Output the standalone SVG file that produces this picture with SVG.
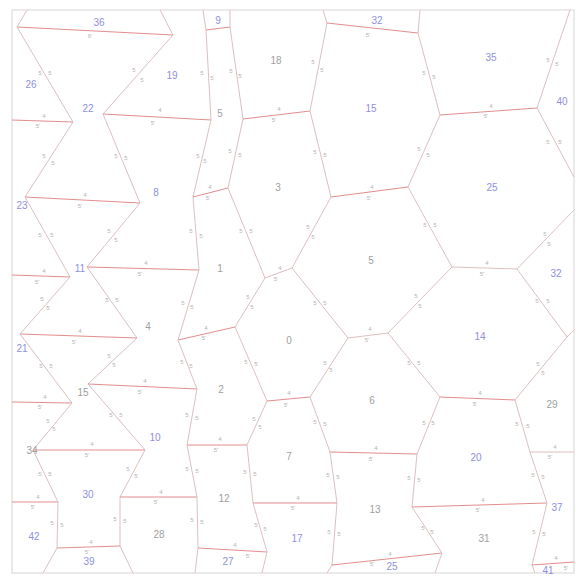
<svg xmlns="http://www.w3.org/2000/svg" width="576" height="581" viewBox="0 0 576 581">
<style>
.bg{fill:#ffffff}
.frame{fill:none;stroke:#dcdcdc;stroke-width:1.2}
.r{stroke:#e38d8d;stroke-width:1;fill:none}
.g{stroke:#dcc0c0;stroke-width:1;fill:none}
.nb{font-family:"Liberation Sans",Arial,sans-serif;font-size:10px;fill:#8f8fe0;text-anchor:middle}
.ng{font-family:"Liberation Sans",Arial,sans-serif;font-size:10px;fill:#a0a0a0;text-anchor:middle}
.el{font-family:"Liberation Sans",Arial,sans-serif;font-size:6px;fill:#b4b4b4;text-anchor:middle}
</style>
<rect class="bg" x="0" y="0" width="576" height="581"/>
<rect class="frame" x="12" y="10" width="562" height="563"/>
<g id="connectors">
<path class="r" d="M17,27 L173,35"/>
<path class="g" d="M17,27 L27,10"/>
<path class="g" d="M173,35 L160,10"/>
<path class="g" d="M17,27 L73,122"/>
<path class="g" d="M173,35 L103,114"/>
<path class="r" d="M12,120 L73,122"/>
<path class="r" d="M103,114 L211,120"/>
<path class="g" d="M203,10 L206,30 L211,120"/>
<path class="r" d="M206,30 L230,27"/>
<path class="g" d="M230,10 L230,27 L243,119"/>
<path class="r" d="M243,119 L310,111"/>
<path class="g" d="M310,111 L327,23 L323,10"/>
<path class="r" d="M327,23 L418,33"/>
<path class="g" d="M420,10 L418,33 L440,115"/>
<path class="r" d="M440,115 L537,108"/>
<path class="g" d="M537,108 L570,10"/>
<path class="g" d="M537,108 L574,177"/>
<path class="g" d="M440,115 L408,187"/>
<path class="g" d="M310,111 L331,197"/>
<path class="r" d="M331,197 L408,187"/>
<path class="g" d="M243,119 L228,188"/>
<path class="g" d="M211,120 L193,197"/>
<path class="r" d="M193,197 L228,188"/>
<path class="g" d="M73,122 L25,197"/>
<path class="g" d="M103,114 L140,203"/>
<path class="r" d="M25,197 L140,203"/>
<path class="g" d="M25,197 L70,277"/>
<path class="g" d="M140,203 L87,267"/>
<path class="r" d="M12,275 L70,277"/>
<path class="r" d="M87,267 L199,270"/>
<path class="g" d="M193,197 L199,270"/>
<path class="g" d="M228,188 L265,278"/>
<path class="g" d="M265,278 L292,268"/>
<path class="g" d="M292,268 L331,197"/>
<path class="g" d="M408,187 L452,267"/>
<path class="g" d="M452,267 L517,269"/>
<path class="g" d="M517,269 L574,210"/>
<path class="g" d="M517,269 L567,337 L574,330"/>
<path class="g" d="M567,337 L515,400"/>
<path class="g" d="M452,267 L388,333"/>
<path class="g" d="M388,333 L348,338"/>
<path class="g" d="M292,268 L348,338"/>
<path class="g" d="M388,333 L440,397"/>
<path class="g" d="M265,278 L235,327"/>
<path class="r" d="M235,327 L178,340"/>
<path class="g" d="M199,270 L178,340"/>
<path class="g" d="M70,277 L20,334"/>
<path class="g" d="M87,267 L137,338"/>
<path class="r" d="M20,334 L137,338"/>
<path class="g" d="M137,338 L88,384"/>
<path class="g" d="M20,334 L72,403"/>
<path class="r" d="M88,384 L197,389"/>
<path class="g" d="M178,340 L197,389"/>
<path class="g" d="M235,327 L267,401"/>
<path class="g" d="M348,338 L310,397"/>
<path class="r" d="M267,401 L310,397"/>
<path class="r" d="M440,397 L515,400"/>
<path class="g" d="M515,400 L530,452"/>
<path class="r" d="M72,403 L12,402"/>
<path class="g" d="M72,403 L33,450"/>
<path class="g" d="M88,384 L145,450"/>
<path class="r" d="M33,450 L145,450"/>
<path class="g" d="M197,389 L187,445"/>
<path class="r" d="M187,445 L247,445"/>
<path class="g" d="M267,401 L247,445"/>
<path class="g" d="M310,397 L330,452"/>
<path class="r" d="M330,452 L417,454"/>
<path class="g" d="M440,397 L417,454"/>
<path class="g" d="M530,452 L574,452"/>
<path class="g" d="M33,450 L58,502"/>
<path class="g" d="M145,450 L120,497"/>
<path class="r" d="M58,502 L12,502"/>
<path class="r" d="M120,497 L197,497"/>
<path class="g" d="M187,445 L197,497"/>
<path class="g" d="M247,445 L253,503"/>
<path class="r" d="M253,503 L337,503"/>
<path class="g" d="M330,452 L337,503"/>
<path class="g" d="M417,454 L412,507"/>
<path class="r" d="M412,507 L547,503"/>
<path class="g" d="M530,452 L547,503"/>
<path class="g" d="M58,502 L57,548"/>
<path class="g" d="M120,497 L120,546"/>
<path class="r" d="M57,548 L120,546"/>
<path class="g" d="M57,548 L43,573"/>
<path class="g" d="M120,546 L133,573"/>
<path class="g" d="M197,497 L198,548 L195,573"/>
<path class="r" d="M198,548 L267,552"/>
<path class="g" d="M253,503 L267,552 L262,573"/>
<path class="g" d="M337,503 L332,565 L327,573"/>
<path class="r" d="M332,565 L442,553"/>
<path class="g" d="M412,507 L442,553 L435,573"/>
<path class="g" d="M547,503 L532,565 L535,573"/>
<path class="r" d="M532,565 L574,562"/>
</g>
<g id="edge-labels">
<text class="el" x="90" y="38">6'</text>
<text class="el" x="40" y="75">5</text><text class="el" x="50" y="75">5</text>
<text class="el" x="134" y="72">5</text><text class="el" x="142" y="82">5</text>
<text class="el" x="44" y="118">4</text><text class="el" x="38" y="128">5'</text>
<text class="el" x="160" y="112">4</text><text class="el" x="153" y="125">5'</text>
<text class="el" x="202" y="75">5</text><text class="el" x="212" y="80">5</text>
<text class="el" x="231" y="73">5</text><text class="el" x="240" y="78">5</text>
<text class="el" x="279" y="111">4</text><text class="el" x="274" y="122">5'</text>
<text class="el" x="313" y="64">5</text><text class="el" x="322" y="72">5</text>
<text class="el" x="368" y="37">5'</text>
<text class="el" x="424" y="75">5</text><text class="el" x="434" y="79">5</text>
<text class="el" x="491" y="108">4</text><text class="el" x="486" y="118">5'</text>
<text class="el" x="548" y="62">5</text><text class="el" x="557" y="66">5</text>
<text class="el" x="548" y="144">5</text><text class="el" x="560" y="144">5</text>
<text class="el" x="419" y="151">5</text><text class="el" x="428" y="157">5</text>
<text class="el" x="315" y="154">5</text><text class="el" x="325" y="157">5</text>
<text class="el" x="372" y="189">4</text><text class="el" x="369" y="200">5'</text>
<text class="el" x="230" y="153">5</text><text class="el" x="240" y="157">5</text>
<text class="el" x="198" y="158">5</text><text class="el" x="205" y="163">5</text>
<text class="el" x="210" y="189">4</text><text class="el" x="208" y="200">5'</text>
<text class="el" x="44" y="158">5</text><text class="el" x="53" y="165">5</text>
<text class="el" x="116" y="158">5</text><text class="el" x="126" y="160">5</text>
<text class="el" x="85" y="197">4</text><text class="el" x="80" y="208">5'</text>
<text class="el" x="40" y="237">5</text><text class="el" x="52" y="237">5</text>
<text class="el" x="109" y="233">5</text><text class="el" x="116" y="242">5</text>
<text class="el" x="44" y="273">4</text><text class="el" x="37" y="284">5'</text>
<text class="el" x="146" y="265">4</text><text class="el" x="140" y="276">5'</text>
<text class="el" x="191" y="233">5</text><text class="el" x="201" y="238">5</text>
<text class="el" x="241" y="233">5</text><text class="el" x="251" y="233">5</text>
<text class="el" x="280" y="270">4</text><text class="el" x="276" y="281">5'</text>
<text class="el" x="308" y="229">5</text><text class="el" x="313" y="239">5</text>
<text class="el" x="425" y="227">5</text><text class="el" x="435" y="227">5</text>
<text class="el" x="487" y="265">4</text><text class="el" x="482" y="276">5'</text>
<text class="el" x="545" y="236">5</text><text class="el" x="549" y="246">5</text>
<text class="el" x="537" y="303">5</text><text class="el" x="548" y="303">5</text>
<text class="el" x="538" y="366">5</text><text class="el" x="543" y="375">5</text>
<text class="el" x="416" y="298">5</text><text class="el" x="420" y="308">5</text>
<text class="el" x="370" y="331">4</text><text class="el" x="367" y="342">5'</text>
<text class="el" x="315" y="305">5</text><text class="el" x="325" y="305">5</text>
<text class="el" x="409" y="365">5</text><text class="el" x="419" y="365">5</text>
<text class="el" x="248" y="299">5</text><text class="el" x="252" y="309">5</text>
<text class="el" x="206" y="330">4</text><text class="el" x="204" y="340">5'</text>
<text class="el" x="183" y="305">5</text><text class="el" x="192" y="309">5</text>
<text class="el" x="42" y="301">5</text><text class="el" x="48" y="310">5</text>
<text class="el" x="107" y="302">5</text><text class="el" x="117" y="302">5</text>
<text class="el" x="80" y="333">4</text><text class="el" x="74" y="344">5'</text>
<text class="el" x="109" y="358">5</text><text class="el" x="114" y="367">5</text>
<text class="el" x="41" y="368">5</text><text class="el" x="51" y="368">5</text>
<text class="el" x="145" y="383">4</text><text class="el" x="140" y="394">5'</text>
<text class="el" x="182" y="364">5</text><text class="el" x="191" y="368">5</text>
<text class="el" x="246" y="364">5</text><text class="el" x="256" y="366">5</text>
<text class="el" x="325" y="365">5</text><text class="el" x="331" y="372">5</text>
<text class="el" x="289" y="395">4</text><text class="el" x="286" y="407">5'</text>
<text class="el" x="480" y="395">4</text><text class="el" x="475" y="406">5'</text>
<text class="el" x="517" y="426">5</text><text class="el" x="528" y="428">5</text>
<text class="el" x="45" y="399">4</text><text class="el" x="40" y="409">5'</text>
<text class="el" x="48" y="423">5</text><text class="el" x="54" y="431">5</text>
<text class="el" x="111" y="417">5</text><text class="el" x="121" y="417">5</text>
<text class="el" x="92" y="446">4</text><text class="el" x="87" y="457">5'</text>
<text class="el" x="187" y="417">5</text><text class="el" x="197" y="420">5</text>
<text class="el" x="220" y="441">4</text><text class="el" x="216" y="452">5'</text>
<text class="el" x="254" y="421">5</text><text class="el" x="260" y="429">5</text>
<text class="el" x="315" y="424">5</text><text class="el" x="325" y="426">5</text>
<text class="el" x="376" y="450">4</text><text class="el" x="371" y="461">5'</text>
<text class="el" x="424" y="425">5</text><text class="el" x="433" y="425">5</text>
<text class="el" x="555" y="449">4</text><text class="el" x="550" y="459">5'</text>
<text class="el" x="40" y="476">5</text><text class="el" x="50" y="476">5</text>
<text class="el" x="128" y="471">5</text><text class="el" x="136" y="478">5</text>
<text class="el" x="38" y="499">4</text><text class="el" x="33" y="509">5'</text>
<text class="el" x="161" y="494">4</text><text class="el" x="156" y="504">5'</text>
<text class="el" x="187" y="471">5</text><text class="el" x="197" y="473">5</text>
<text class="el" x="245" y="474">5</text><text class="el" x="255" y="476">5</text>
<text class="el" x="298" y="500">4</text><text class="el" x="293" y="510">5'</text>
<text class="el" x="328" y="477">5</text><text class="el" x="338" y="479">5</text>
<text class="el" x="409" y="480">5</text><text class="el" x="419" y="482">5</text>
<text class="el" x="483" y="502">4</text><text class="el" x="478" y="512">5'</text>
<text class="el" x="533" y="477">5</text><text class="el" x="543" y="479">5</text>
<text class="el" x="52" y="525">5</text><text class="el" x="62" y="527">5</text>
<text class="el" x="115" y="521">5</text><text class="el" x="125" y="523">5</text>
<text class="el" x="91" y="544">4</text><text class="el" x="87" y="554">5'</text>
<text class="el" x="192" y="522">5</text><text class="el" x="202" y="524">5</text>
<text class="el" x="235" y="547">4</text><text class="el" x="248" y="558">5'</text>
<text class="el" x="256" y="527">5</text><text class="el" x="265" y="531">5</text>
<text class="el" x="329" y="534">5</text><text class="el" x="339" y="536">5</text>
<text class="el" x="390" y="556">4</text><text class="el" x="372" y="566">5'</text>
<text class="el" x="423" y="530">5</text><text class="el" x="432" y="534">5</text>
<text class="el" x="534" y="534">5</text><text class="el" x="544" y="536">5</text>
<text class="el" x="556" y="560">4</text><text class="el" x="566" y="570">5'</text>
</g>
<g id="n36"><text class="nb" x="99" y="26">36</text></g>
<g id="n9"><text class="nb" x="218" y="24">9</text></g>
<g id="n32a"><text class="nb" x="377" y="24">32</text></g>
<g id="n35"><text class="nb" x="491" y="61">35</text></g>
<g id="n26"><text class="nb" x="31" y="88">26</text></g>
<g id="n19"><text class="nb" x="172" y="79">19</text></g>
<g id="n18"><text class="ng" x="276" y="64">18</text></g>
<g id="n15a"><text class="nb" x="371" y="112">15</text></g>
<g id="n40"><text class="nb" x="562" y="105">40</text></g>
<g id="n22"><text class="nb" x="88" y="112">22</text></g>
<g id="n5a"><text class="ng" x="220" y="117">5</text></g>
<g id="n3"><text class="ng" x="278" y="191">3</text></g>
<g id="n8"><text class="nb" x="156" y="196">8</text></g>
<g id="n25a"><text class="nb" x="492" y="191">25</text></g>
<g id="n23"><text class="nb" x="22" y="209">23</text></g>
<g id="n1"><text class="ng" x="220" y="272">1</text></g>
<g id="n11"><text class="nb" x="80" y="272">11</text></g>
<g id="n5b"><text class="ng" x="371" y="264">5</text></g>
<g id="n32b"><text class="nb" x="556" y="277">32</text></g>
<g id="n4"><text class="ng" x="148" y="330">4</text></g>
<g id="n0"><text class="ng" x="289" y="344">0</text></g>
<g id="n14"><text class="nb" x="480" y="340">14</text></g>
<g id="n21"><text class="nb" x="22" y="352">21</text></g>
<g id="n2"><text class="ng" x="221" y="393">2</text></g>
<g id="n15b"><text class="ng" x="83" y="396">15</text></g>
<g id="n6"><text class="ng" x="372" y="404">6</text></g>
<g id="n29"><text class="ng" x="552" y="408">29</text></g>
<g id="n34"><text class="ng" x="32" y="454">34</text></g>
<g id="n10"><text class="nb" x="155" y="441">10</text></g>
<g id="n7"><text class="ng" x="289" y="460">7</text></g>
<g id="n20"><text class="nb" x="476" y="461">20</text></g>
<g id="n30"><text class="nb" x="88" y="498">30</text></g>
<g id="n12"><text class="ng" x="224" y="502">12</text></g>
<g id="n28"><text class="ng" x="159" y="538">28</text></g>
<g id="n13"><text class="ng" x="375" y="513">13</text></g>
<g id="n37"><text class="nb" x="557" y="511">37</text></g>
<g id="n42"><text class="nb" x="34" y="540">42</text></g>
<g id="n39"><text class="nb" x="89" y="565">39</text></g>
<g id="n27"><text class="nb" x="228" y="565">27</text></g>
<g id="n17"><text class="nb" x="297" y="542">17</text></g>
<g id="n31"><text class="ng" x="484" y="542">31</text></g>
<g id="n25b"><text class="nb" x="392" y="570">25</text></g>
<g id="n41"><text class="nb" x="548" y="574">41</text></g>
</svg>
